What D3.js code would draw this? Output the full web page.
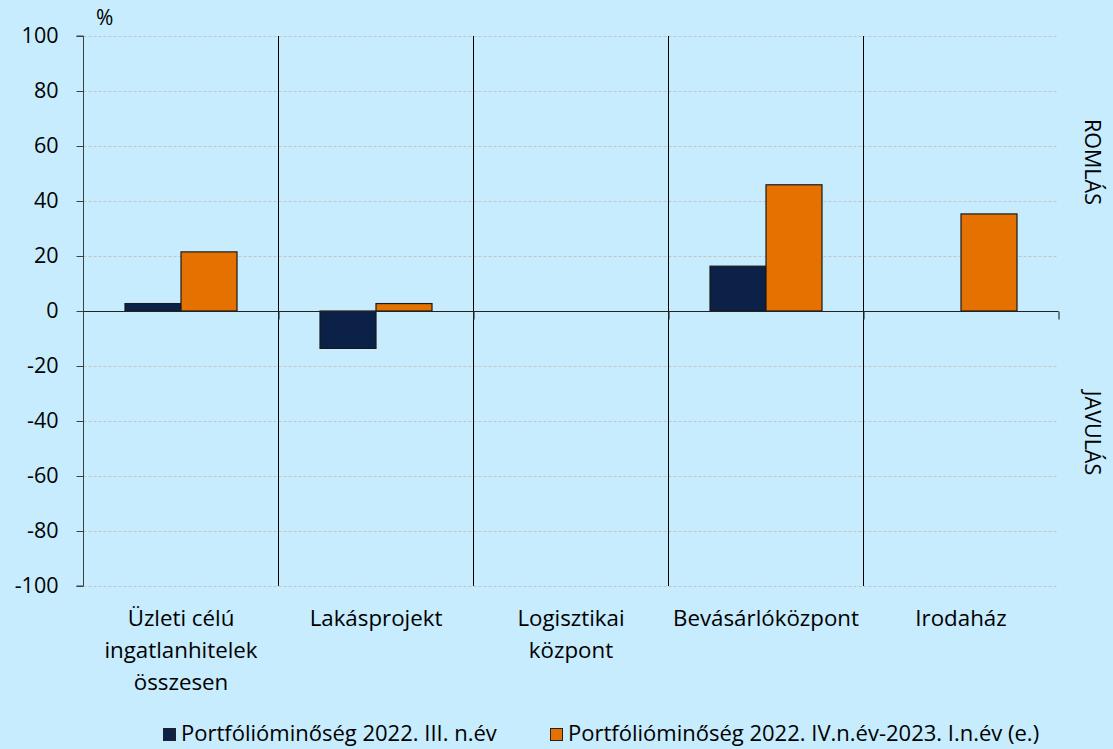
<!DOCTYPE html>
<html>
<head>
<meta charset="utf-8">
<script src="https://cdn.jsdelivr.net/npm/d3@7"></script>
<style>
  html, body { margin: 0; padding: 0; background: #c6ecfd; }
  svg { display: block; font-family: "Open Sans", sans-serif; }
</style>
</head>
<body>
<svg id="chart" width="1113" height="749"></svg>
<script>
// Categories (multi-line labels)
const categories = [
  ["Üzleti célú", "ingatlanhitelek", "összesen"],
  ["Lakásprojekt"],
  ["Logisztikai", "központ"],
  ["Bevásárlóközpont"],
  ["Irodaház"]
];
const seriesNames = [
  "Portfólióminőség 2022. III. n.év",
  "Portfólióminőség 2022. IV.n.év-2023. I.n.év (e.)"
];
const seriesQ3 = [2.7, -13.6, 0, 16.3, 0];
const seriesQ4Q1 = [21.5, 2.7, 0, 45.9, 35.3];
const yTicks = [100, 80, 60, 40, 20, 0, -20, -40, -60, -80, -100];
const colors = ["#0c2148", "#e57200"];

const svg = d3.select("#chart");
const plotLeft = 83.5, plotRight = 1058.5, plotTop = 36, plotBottom = 586;

const x = d3.scaleBand().domain(d3.range(categories.length)).range([plotLeft, plotRight]);
const y = d3.scaleLinear().domain([-100, 100]).range([plotBottom, plotTop]);
const inner = d3.scaleBand().domain([0, 1]).range([0, 112]);

// dashed gridlines
svg.append("g").selectAll("line").data(yTicks).join("line")
  .attr("x1", plotLeft).attr("x2", plotRight)
  .attr("y1", d => Math.round(y(d)) + 0.5).attr("y2", d => Math.round(y(d)) + 0.5)
  .attr("stroke", "#c4c4c4").attr("stroke-width", 1).attr("stroke-dasharray", "3,2");

// vertical category separators
svg.append("g").selectAll("line").data(d3.range(1, categories.length)).join("line")
  .attr("x1", d => Math.round(x(d)) - 0.5).attr("x2", d => Math.round(x(d)) - 0.5)
  .attr("y1", plotTop).attr("y2", plotBottom)
  .attr("stroke", "#000").attr("stroke-width", 1);

// bars
const data = [];
categories.forEach((c, i) => {
  [seriesQ3, seriesQ4Q1].forEach((s, j) => data.push({ i, j, v: s[i] }));
});
svg.append("g").selectAll("rect").data(data.filter(d => d.v !== 0)).join("rect")
  .attr("x", d => x(d.i) + x.bandwidth() / 2 - 56 + inner(d.j))
  .attr("width", inner.bandwidth())
  .attr("y", d => y(Math.max(0, d.v)))
  .attr("height", d => Math.abs(y(d.v) - y(0)))
  .attr("fill", d => colors[d.j])
  .attr("stroke", "#1a1a1a").attr("stroke-width", 1.2);

// y axis
const yAxis = d3.axisLeft(y).tickValues(yTicks).tickSize(7).tickPadding(18).tickFormat(d => String(d));
const ya = svg.append("g").attr("transform", `translate(${plotLeft},0)`).call(yAxis);
ya.select(".domain").attr("stroke", "#404040").attr("d", `M-7,${plotTop}H0V${plotBottom}H-7`);
ya.selectAll(".tick line").attr("stroke", "#404040");
ya.selectAll(".tick text").attr("font-size", 21.5).attr("fill", "#000")
  .attr("font-family", "'Open Sans', sans-serif");

// x axis at zero
const zeroY = Math.round(y(0)) + 0.5;
svg.append("line").attr("x1", plotLeft).attr("x2", plotRight).attr("y1", zeroY).attr("y2", zeroY)
  .attr("stroke", "#222").attr("stroke-width", 1.2);
svg.append("g").selectAll("line").data(d3.range(1, categories.length + 1)).join("line")
  .attr("x1", d => (d < categories.length ? x(d) : plotRight) + 0.5)
  .attr("x2", d => (d < categories.length ? x(d) : plotRight) + 0.5)
  .attr("y1", zeroY).attr("y2", zeroY + 8)
  .attr("stroke", "#333").attr("stroke-width", 1.2);

// category labels
const catG = svg.append("g").attr("font-size", 22.3).attr("fill", "#000").attr("text-anchor", "middle");
categories.forEach((lines, i) => {
  lines.forEach((t, k) => {
    catG.append("text").attr("x", x(i) + x.bandwidth() / 2).attr("y", 626 + k * 32).text(t);
  });
});

// unit label
svg.append("text").attr("x", 96).attr("y", 25).attr("font-size", 21).text("%");

// side labels
svg.append("text").attr("transform", "translate(1085,162) rotate(90)").attr("text-anchor", "middle")
  .attr("font-size", 21.5).text("ROMLÁS");
svg.append("text").attr("transform", "translate(1085,433) rotate(90)").attr("text-anchor", "middle")
  .attr("font-size", 21.5).text("JAVULÁS");

// legend
const legendX = [163, 550];
const lg = svg.append("g");
seriesNames.forEach((n, j) => {
  lg.append("rect").attr("x", legendX[j] + 0.5).attr("y", 728.5).attr("width", 12).attr("height", 12)
    .attr("fill", colors[j]).attr("stroke", "#222").attr("stroke-width", 1);
  lg.append("text").attr("x", legendX[j] + 18).attr("y", 741).attr("font-size", 22).text(n);
});
</script>
</body>
</html>
